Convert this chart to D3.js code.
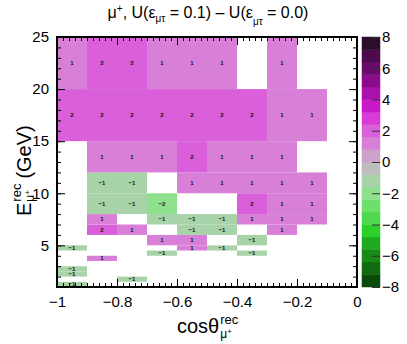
<!DOCTYPE html>
<html>
<head>
<meta charset="utf-8">
<script src="https://cdn.jsdelivr.net/npm/d3@7"></script>
<style>
  body { margin: 0; background: #fff; }
  text { font-family: "Liberation Sans", Arial, Helvetica, sans-serif; }
</style>
</head>
<body>
<svg width="407" height="344"></svg>
<script>
// Bin edges
var xEdges = [-1, -0.9, -0.8, -0.7, -0.6, -0.5, -0.4, -0.3, -0.2, -0.1, 0];
var yEdges = [1, 1.5, 2, 2.5, 3, 3.5, 4, 4.5, 5, 6, 7, 8, 10, 12, 15, 20, 25];

// Difference per bin: one row per energy bin (lowest first), one column per cos bin
var diff = [
  [-1, 0, 0, 0, 0, 0, 0, 0, 0, 0],
  [0, 0, -1, 0, 0, 0, 0, 0, 0, 0],
  [-1, 0, 0, 0, 0, 0, 0, 0, 0, 0],
  [-1, 0, 0, 0, 0, 0, 0, 0, 0, 0],
  [0, 0, 0, 0, 0, 0, 0, 0, 0, 0],
  [0, 1, 0, 0, 0, 0, 0, 0, 0, 0],
  [0, 0, 0, -1, 0, 0, -1, 0, 0, 0],
  [-1, 0, 0, 0, 1, -1, 0, 0, 0, 0],
  [0, 0, 0, 1, 1, 0, -1, 0, 0, 0],
  [0, 2, 1, 0, -1, -1, 0, 1, 0, 0],
  [0, 1, 0, -1, -1, -1, 1, 1, 1, 0],
  [0, -1, -1, -2, 0, 0, 2, 1, 1, 0],
  [0, -1, -1, 0, 1, 1, 1, 1, 1, 0],
  [0, 1, 1, 1, 2, 1, 1, 1, 0, 0],
  [2, 2, 2, 2, 2, 2, 2, 1, 1, 0],
  [1, 2, 2, 1, 1, 1, 0, 1, 0, 0]
];

// Tick labels
var xTicks = [-1, -0.8, -0.6, -0.4, -0.2, 0];
var yTicks = [5, 10, 15, 20, 25];
var zTicks = [-8, -6, -4, -2, 0, 2, 4, 6, 8];

// Palette, 20 levels from -8 (bottom) to 8 (top)
var palette = [
  "#0a4a0a", "#106b10", "#178a17", "#1faa1f", "#2bd02b",
  "#4fd84f", "#6ddf6d", "#8ee08e", "#a8d2a8", "#bdbdbd",
  "#caa2ca", "#d880d8", "#da5fda", "#d83cd8", "#c818c8",
  "#ab10ab", "#8c0a8c", "#6b0a6b", "#4d0a4d", "#2a0f2a"
];

var svg = d3.select("svg");
var fl = 57, fr = 357, ft = 37, fb = 287;

var x = d3.scaleLinear().domain([-1, 0]).range([fl, fr]);
var y = d3.scaleLinear().domain([1, 25]).range([fb, ft]);
var z = d3.scaleLinear().domain([-8, 8]).range([fb, ft]);
var color = d3.scaleQuantize().domain([-8, 8]).range(palette);

// Cells
var cells = [];
diff.forEach(function (row, r) {
  row.forEach(function (v, c) {
    if (v !== 0) cells.push({ r: r, c: c, v: v });
  });
});

var g = svg.append("g");
g.selectAll("rect")
  .data(cells)
  .enter()
  .append("rect")
  .attr("x", function (d) { return x(xEdges[d.c]); })
  .attr("y", function (d) { return y(yEdges[d.r + 1]); })
  .attr("width", function (d) { return x(xEdges[d.c + 1]) - x(xEdges[d.c]); })
  .attr("height", function (d) { return y(yEdges[d.r]) - y(yEdges[d.r + 1]); })
  .attr("fill", function (d) { return color(d.v); });

g.selectAll("text")
  .data(cells)
  .enter()
  .append("text")
  .attr("x", function (d) { return (x(xEdges[d.c]) + x(xEdges[d.c + 1])) / 2; })
  .attr("y", function (d) { return (y(yEdges[d.r]) + y(yEdges[d.r + 1])) / 2; })
  .attr("text-anchor", "middle")
  .attr("dy", "0.35em")
  .style("font-size", "6px")
  .style("font-weight", "bold")
  .attr("fill", "#111")
  .text(function (d) { return d3.format("d")(d.v); });

// Axes (ticks inside the frame, mirrored)
var fmt = d3.format("~g");
var xMinor = d3.range(-1, 0.0001, 0.02);
var yMinor = d3.range(1, 25.01, 1);

function drawAxis(axis, tx, ty) {
  var a = svg.append("g").attr("transform", "translate(" + tx + "," + ty + ")").call(axis);
  a.select(".domain").remove();
  a.selectAll("line").attr("stroke", "#000");
  a.selectAll("text").style("font-size", "15px").attr("fill", "#000");
  return a;
}

drawAxis(d3.axisBottom(x).tickValues(xTicks).tickSize(-8).tickPadding(9).tickFormat(fmt), 0, fb);
drawAxis(d3.axisBottom(x).tickValues(xMinor).tickSize(-4).tickFormat(""), 0, fb);
drawAxis(d3.axisTop(x).tickValues(xTicks).tickSize(-8).tickFormat(""), 0, ft);
drawAxis(d3.axisTop(x).tickValues(xMinor).tickSize(-4).tickFormat(""), 0, ft);

drawAxis(d3.axisLeft(y).tickValues(yTicks).tickSize(-8).tickPadding(8).tickFormat(fmt), fl, 0);
drawAxis(d3.axisLeft(y).tickValues(yMinor).tickSize(-4).tickFormat(""), fl, 0);
drawAxis(d3.axisRight(y).tickValues(yTicks).tickSize(-8).tickFormat(""), fr, 0);
drawAxis(d3.axisRight(y).tickValues(yMinor).tickSize(-4).tickFormat(""), fr, 0);

// Frame
svg.append("rect")
  .attr("x", fl).attr("y", ft)
  .attr("width", fr - fl).attr("height", fb - ft)
  .attr("fill", "none")
  .attr("stroke", "#000")
  .attr("stroke-width", 2);

// Palette
var px0 = 362, px1 = 380;
var levels = d3.range(palette.length);
svg.append("g").selectAll("rect")
  .data(levels)
  .enter()
  .append("rect")
  .attr("x", px0)
  .attr("width", px1 - px0)
  .attr("y", function (i) { return z(-8 + 0.8 * (i + 1)); })
  .attr("height", function (i) { return z(-8 + 0.8 * i) - z(-8 + 0.8 * (i + 1)); })
  .attr("fill", function (i) { return palette[i]; })
  .attr("stroke", function (i) { return palette[i]; })
  .attr("stroke-width", 0.5);

var za = drawAxis(d3.axisRight(z).tickValues(zTicks).tickSize(-8).tickPadding(2).tickFormat(d3.format("d")), px1, 0);
za.selectAll("line").attr("stroke", "#333");

// Title
var title = svg.append("text")
  .attr("x", 208).attr("y", 18)
  .attr("text-anchor", "middle")
  .style("font-size", "16px");
title.append("tspan").text("\u03bc");
title.append("tspan").attr("dy", -6).style("font-size", "10px").text("+");
title.append("tspan").attr("dy", 6).text(", U(\u03b5");
title.append("tspan").attr("dy", 4).style("font-size", "10px").text("\u03bc\u03c4");
title.append("tspan").attr("dy", -4).text(" = 0.1) \u2013 U(\u03b5");
title.append("tspan").attr("dy", 7).style("font-size", "10px").text("\u03bc\u03c4");
title.append("tspan").attr("dy", -7).text(" = 0.0)");

// X axis title
var xt = svg.append("text").attr("x", 177).attr("y", 333).style("font-size", "20px").text("cos\u03b8");
var xw = xt.node().getComputedTextLength();
svg.append("text").attr("x", 177 + xw + 1).attr("y", 324).style("font-size", "13px").text("rec");
var xs = svg.append("text").attr("x", 177 + xw + 1).attr("y", 338).style("font-size", "12px");
xs.append("tspan").text("\u03bc");
xs.append("tspan").attr("dy", -4).style("font-size", "8px").text("+");

// Y axis title
var yg = svg.append("g").attr("transform", "translate(31,216) rotate(-90)");
var ye = yg.append("text").attr("x", 0).attr("y", 0).style("font-size", "20px").text("E");
var ew = ye.node().getComputedTextLength();
var yr = yg.append("text").attr("x", ew + 1).attr("y", -10).style("font-size", "13px").text("rec");
var ys = yg.append("text").attr("x", ew + 1).attr("y", 3).style("font-size", "12px");
ys.append("tspan").text("\u03bc");
ys.append("tspan").attr("dy", -4).style("font-size", "8px").text("+");
var rw = yr.node().getComputedTextLength();
yg.append("text").attr("x", ew + 1 + rw + 5).attr("y", 0).style("font-size", "20px").text("(GeV)");
</script>
</body>
</html>
